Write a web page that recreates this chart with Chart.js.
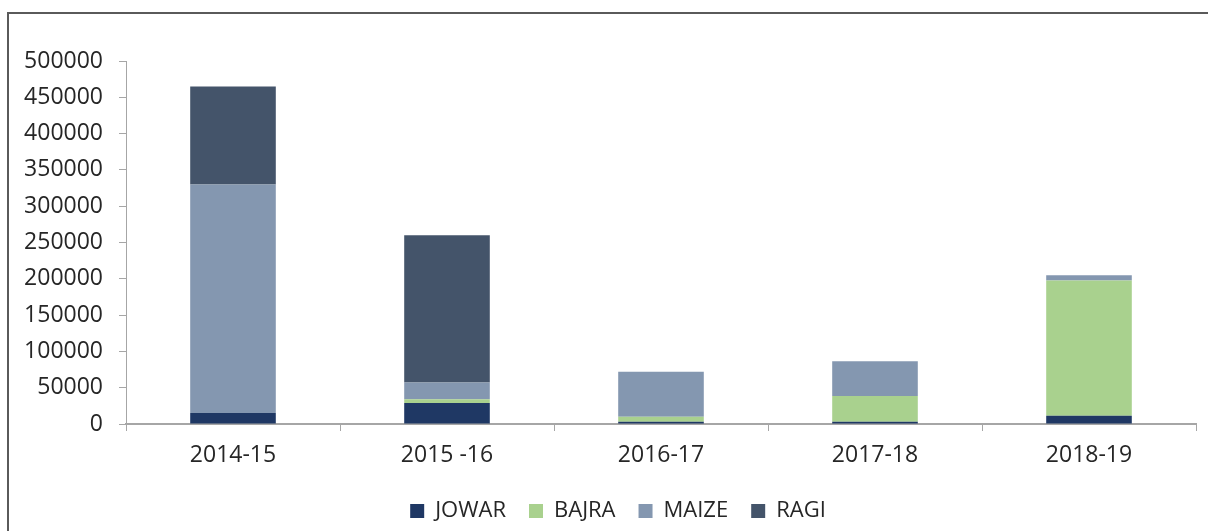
<!DOCTYPE html>
<html>
<head>
<meta charset="utf-8">
<script src="https://cdn.jsdelivr.net/npm/chart.js@4.4.1/dist/chart.umd.min.js"></script>
<style>
  html, body { margin: 0; padding: 0; background: #fff; overflow: hidden; }
  #wrap { position: relative; width: 1208px; height: 531px; }
  #frame { position: absolute; left: 7px; top: 12px; width: 1300px; height: 600px; border: 2px solid #5a5a5a; box-sizing: border-box; }
  canvas { position: absolute; left: 0; top: 0; }
</style>
</head>
<body>
<div id="wrap">
  <div id="frame"></div>
  <canvas id="chart" width="1208" height="531"></canvas>
</div>
<script>
// crop area by year, stacked
const years = ["2014-15", "2015 -16", "2016-17", "2017-18", "2018-19"];
const jowar = [15000, 29000, 3000, 3000, 11500];
const bajra = [0, 5000, 7000, 35500, 186000];
const maize = [315000, 23000, 62000, 48000, 7500];
const ragi = [135000, 203000, 0, 0, 0];

const seriesNames = ["JOWAR", "BAJRA", "MAIZE", "RAGI"];
const seriesColors = ["#1f3864", "#a9d18e", "#8497b0", "#44546a"];
const seriesData = [jowar, bajra, maize, ragi];

const axisGray = "#a6a6a6";
const textColor = "#262626";

// nudge the legend a bit right so it sits under the plot like the original
const legendShift = {
    id: "legendShift",
    afterLayout(chart) {
        chart.legend.left += 20;
        chart.legend.right += 20;
    },
};

const ctx = document.getElementById("chart").getContext("2d");
new Chart(ctx, {
    type: "bar",
    data: {
        labels: years,
        datasets: seriesNames.map((name, i) => ({
            label: name,
            data: seriesData[i],
            backgroundColor: seriesColors[i],
            borderWidth: 0,
            barPercentage: 0.4,
            categoryPercentage: 1.0,
        })),
    },
    options: {
        responsive: false,
        animation: false,
        layout: {
            padding: { left: 0, right: 12, top: 61, bottom: -1 },
        },
        plugins: {
            tooltip: { enabled: false },
            legend: {
                position: "bottom",
                labels: {
                    boxWidth: 14,
                    boxHeight: 14,
                    padding: 23,
                    color: textColor,
                    font: { family: "Open Sans", size: 22 },
                },
            },
        },
        scales: {
            x: {
                stacked: true,
                afterFit: (scale) => { scale.height = 53; },
                grid: {
                    offset: true,
                    drawOnChartArea: false,
                    drawTicks: true,
                    tickLength: 7,
                    color: axisGray,
                },
                border: { display: true, color: axisGray, width: 2 },
                ticks: {
                    color: textColor,
                    padding: 11,
                    font: { family: "Open Sans", size: 23 },
                },
            },
            y: {
                stacked: true,
                min: 0,
                max: 500000,
                afterFit: (scale) => { scale.width = 126; },
                grid: {
                    drawOnChartArea: false,
                    drawTicks: true,
                    tickLength: 7,
                    color: axisGray,
                },
                border: { display: true, color: axisGray, width: 1 },
                ticks: {
                    stepSize: 50000,
                    color: textColor,
                    padding: 16,
                    font: { family: "Open Sans", size: 23 },
                    callback: (v) => String(v),
                },
            },
        },
    },
    plugins: [legendShift],
});
</script>
</body>
</html>
